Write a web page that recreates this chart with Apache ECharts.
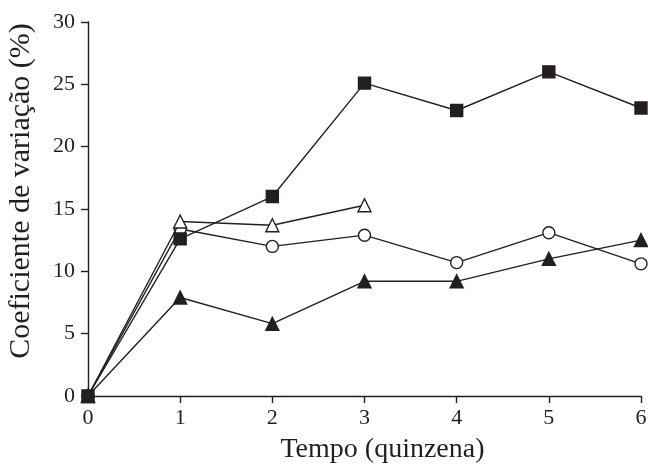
<!DOCTYPE html>
<html><head><meta charset="utf-8">
<script src="https://cdn.jsdelivr.net/npm/echarts@6/dist/echarts.min.js"></script>
<style>html,body{margin:0;padding:0;background:#fff}#c{width:648px;height:464px}</style>
</head><body><div id="c"></div>
<script>
const xValues = [0, 1, 2, 3, 4, 5, 6];
const squares = [0, 12.6, 16.0, 25.1, 22.9, 26.0, 23.1];
const openTriangles = [0, 14.0, 13.7, 15.3];
const openCircles = [0, 13.4, 12.0, 12.9, 10.7, 13.1, 10.6];
const filledTriangles = [0, 7.9, 5.8, 9.2, 9.2, 11.0, 12.5];
const xTicks = ['0','1','2','3','4','5','6'];
const yTicks = ['0','5','10','15','20','25','30'];

const pairs = v => v.map((y, i) => [xValues[i], y]);
const font = '"Liberation Serif", "Times New Roman", serif';
const ink = '#231f20';

function mk(data, symbol, size, fill, z) {
  return {
    type: 'line', data: pairs(data), symbol: symbol, symbolSize: size,
    showAllSymbol: true, z: z,
    lineStyle: { color: ink, width: 1.4 },
    itemStyle: { color: fill, borderColor: ink, borderWidth: 1.4, opacity: 1 },
    emphasis: { disabled: true }, animation: false
  };
}

const chart = echarts.init(document.getElementById('c'), null, { renderer: 'canvas' });
chart.setOption({
  animation: false,
  grid: { left: 88, right: 7, top: 22, bottom: 68, containLabel: false, outerBoundsMode: 'none' },
  xAxis: {
    type: 'value', min: 0, max: 6, interval: 1,
    name: 'Tempo (quinzena)', nameLocation: 'middle', nameGap: 40,
    nameTextStyle: { fontFamily: font, fontSize: 28, color: ink, padding: [0, 0, 0, 36] },
    axisLine: { lineStyle: { color: ink, width: 1.4 } },
    axisTick: { show: true, length: 7, inside: false, lineStyle: { color: ink, width: 1.4 } },
    axisLabel: { fontFamily: font, fontSize: 22, color: ink, margin: 11,
      formatter: v => xTicks[v] },
    splitLine: { show: false }
  },
  yAxis: {
    type: 'value', min: 0, max: 30, interval: 5,
    name: 'Coeficiente de variação (%)', nameLocation: 'middle', nameGap: 52,
    nameRotate: 90,
    nameTextStyle: { fontFamily: font, fontSize: 30, color: ink, padding: [0, 0, 0, 36] },
    axisLine: { show: true, lineStyle: { color: ink, width: 1.4 } },
    axisTick: { show: true, length: 7, inside: false, lineStyle: { color: ink, width: 1.4 } },
    axisLabel: { fontFamily: font, fontSize: 22, color: ink, margin: 13,
      formatter: v => yTicks[v / 5] },
    splitLine: { show: false }
  },
  series: [
    mk(filledTriangles, 'triangle', 13, ink, 2),
    mk(openCircles, 'circle', 12, '#fff', 3),
    mk(openTriangles, 'triangle', 13, '#fff', 4),
    mk(squares, 'rect', 12, ink, 5)
  ]
});
</script></body></html>
